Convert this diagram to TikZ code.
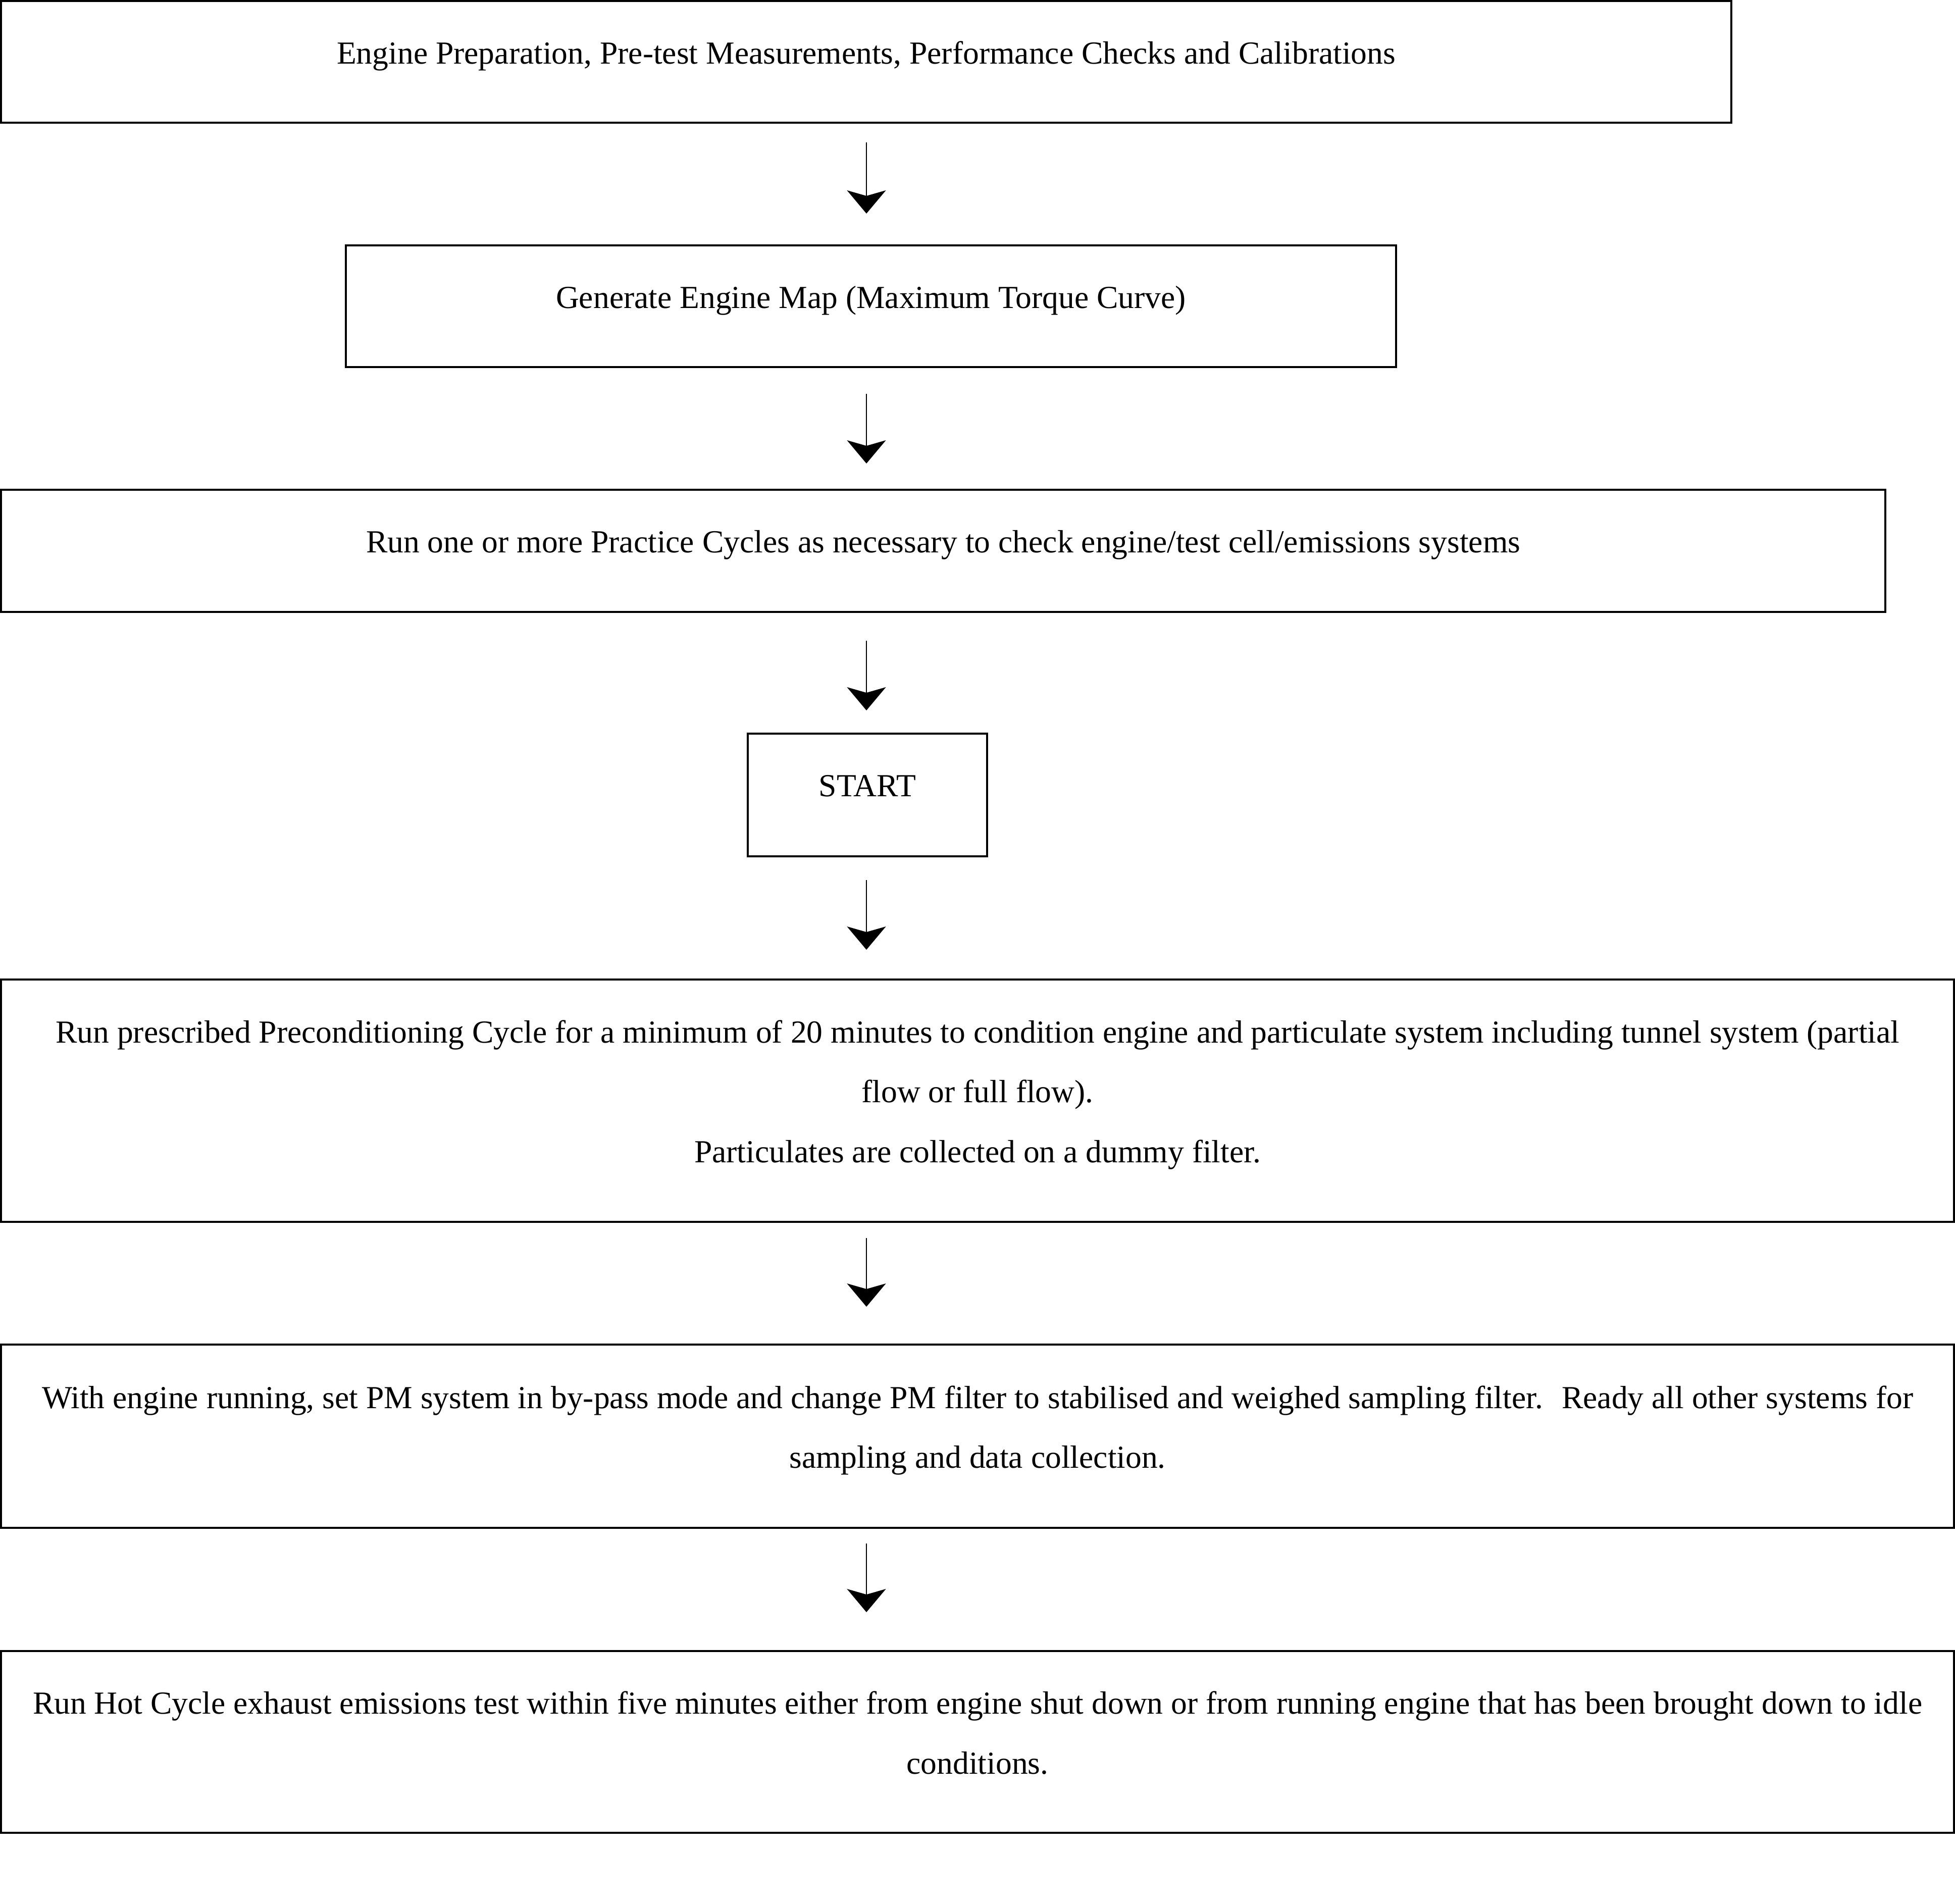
\documentclass[tikz,border=0pt]{standalone}
\usepackage{fontspec}
\setmainfont{Liberation Serif}
\usepackage{tikz}
\usetikzlibrary{arrows.meta,positioning,calc}

\begin{document}
\begin{tikzpicture}[>={Stealth[length=0.46cm,width=0.77cm,inset=0.11cm]},
  box/.style={draw,line width=0.04cm,outer sep=0pt,inner sep=0pt,anchor=north west,align=center,text depth=10.5pt,font=\fontsize{18.1}{33.6}\selectfont},
  flow/.style={->,line width=0.015cm}]
\useasboundingbox (0,0) rectangle (38.72,-37.70);
\node[box,minimum width=34.27cm,minimum height=2.41cm] (prep) at (0.02,-0.02) {Engine Preparation, Pre-test Measurements, Performance Checks and Calibrations};
\node[box,minimum width=20.80cm,minimum height=2.41cm] (map) at (6.85,-4.86) {Generate Engine Map (Maximum Torque Curve)};
\node[box,minimum width=37.32cm,minimum height=2.42cm] (prac) at (0.02,-9.70) {Run one or more Practice Cycles as necessary to check engine/test cell/emissions systems};
\node[box,minimum width=4.74cm,minimum height=2.43cm] (start) at (14.81,-14.53) {START};
\node[box,minimum width=38.68cm,minimum height=4.80cm] (precond) at (0.02,-19.40) {Run prescribed Preconditioning Cycle for a minimum of 20 minutes to condition engine and particulate system including tunnel system (partial\\ flow or full flow).\\ Particulates are collected on a dummy filter.};
\node[box,minimum width=38.68cm,minimum height=3.63cm] (bypass) at (0.02,-26.63) {With engine running, set PM system in by-pass mode and change PM filter to stabilised and weighed sampling filter.~ Ready all other systems for\\ sampling and data collection.};
\node[box,minimum width=38.68cm,minimum height=3.60cm] (hot) at (0.02,-32.70) {Run Hot Cycle exhaust emissions test within five minutes either from engine shut down or from running engine that has been brought down to idle\\ conditions.};
% arrows all sit on one vertical line
\coordinate (ax) at (17.16,0);
\draw[flow,shorten <=0.39cm,shorten >=0.63cm] (prep.south -| ax) -- (map.north -| ax);
\draw[flow,shorten <=0.53cm,shorten >=0.52cm] (map.south -| ax) -- (prac.north -| ax);
\draw[flow,shorten <=0.57cm,shorten >=0.46cm] (prac.south -| ax) -- (start.north -| ax);
\draw[flow,shorten <=0.47cm,shorten >=0.59cm] (start.south -| ax) -- (precond.north -| ax);
\draw[flow,shorten <=0.32cm,shorten >=0.75cm] (precond.south -| ax) -- (bypass.north -| ax);
\draw[flow,shorten <=0.31cm,shorten >=0.77cm] (bypass.south -| ax) -- (hot.north -| ax);
\end{tikzpicture}
\end{document}
